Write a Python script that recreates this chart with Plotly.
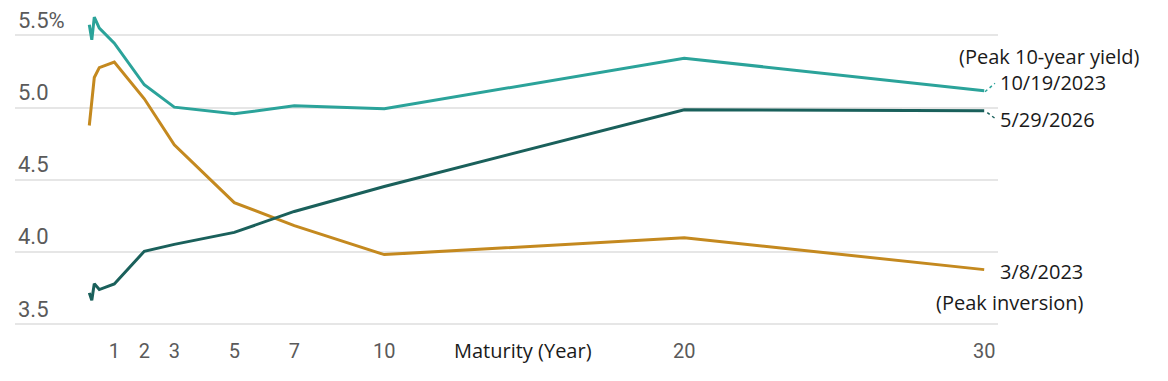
import plotly.graph_objects as go

# Maturities in years
maturity = [2/12, 3/12, 4/12, 6/12, 1, 2, 3, 5, 7, 10, 20, 30]

# Yield curves (%)
peak_10y_2023 = [5.573, 5.469, 5.626, 5.550, 5.446, 5.158, 5.003, 4.957, 5.012, 4.992, 5.342, 5.116]
current_2026 = [3.717, 3.666, 3.781, 3.740, 3.779, 4.005, 4.053, 4.136, 4.281, 4.454, 4.985, 4.978]
peak_inv_2023 = [4.876, 5.045, 5.208, 5.277, 5.315, 5.061, 4.743, 4.342, 4.183, 3.982, 4.099, 3.878]

x_ticks = [1, 2, 3, 5, 7, 10, 20, 30]
y_ticks = [3.5, 4.0, 4.5, 5.0, 5.5]
y_ticktext = ["3.5", "4.0", "4.5", "5.0", "5.5%"]

TEAL = "#2ba39a"
DARK = "#1a605b"
GOLD = "#c4891f"

fig = go.Figure()
fig.add_trace(go.Scatter(x=maturity, y=peak_inv_2023, mode="lines",
                         line=dict(color=GOLD, width=3), hoverinfo="skip"))
fig.add_trace(go.Scatter(x=maturity, y=current_2026, mode="lines",
                         line=dict(color=DARK, width=3), hoverinfo="skip"))
fig.add_trace(go.Scatter(x=maturity, y=peak_10y_2023, mode="lines",
                         line=dict(color=TEAL, width=3), hoverinfo="skip"))

label_font = dict(family="Open Sans", size=20, color="#1a1a1a")

annotations = [
    dict(x=1.1465, y=0.8273, text="(Peak 10-year yield)", xanchor="right"),
    dict(x=1.0000, y=0.7485, text="10/19/2023", xanchor="left"),
    dict(x=1.0000, y=0.6364, text="5/29/2026", xanchor="left"),
    dict(x=1.0000, y=0.1758, text="3/8/2023", xanchor="left"),
    dict(x=1.0895, y=0.0848, text="(Peak inversion)", xanchor="right"),
]
for a in annotations:
    a.update(xref="paper", yref="paper", showarrow=False, yanchor="middle", font=label_font)

annotations.append(dict(x=14.62, y=-0.061, xref="x", yref="paper", text="Maturity (Year)",
                        showarrow=False, xanchor="center", yanchor="middle", font=label_font))

shapes = [
    dict(type="line", xref="paper", yref="paper", x0=0.9868, y0=0.7221, x1=0.9969, y1=0.7476,
         line=dict(color=TEAL, width=1.5, dash="dot")),
    dict(type="line", xref="paper", yref="paper", x0=0.9891, y0=0.6585, x1=0.9969, y1=0.6415,
         line=dict(color=DARK, width=1.5, dash="dot")),
]

fig.update_layout(
    width=1168, height=381,
    margin=dict(l=15, r=170, t=0, b=51),
    paper_bgcolor="white", plot_bgcolor="white",
    showlegend=False,
    annotations=annotations,
    shapes=shapes,
    xaxis=dict(range=[-2.31, 30.46], tickvals=x_ticks, showgrid=False, zeroline=False,
               showline=False, ticks="", tickfont=dict(family="Roboto", size=20, color="#5a5a5a"),
               ticklabelstandoff=7, fixedrange=True),
    yaxis=dict(range=[3.46, 5.745], tickvals=y_ticks, ticktext=y_ticktext,
               ticklabelposition="inside top", showgrid=True, gridcolor="#e6e6e6", gridwidth=2,
               zeroline=False, showline=False, ticks="",
               tickfont=dict(family="Roboto", size=22, color="#5a5a5a"), fixedrange=True),
)

fig.write_html("out.html")
